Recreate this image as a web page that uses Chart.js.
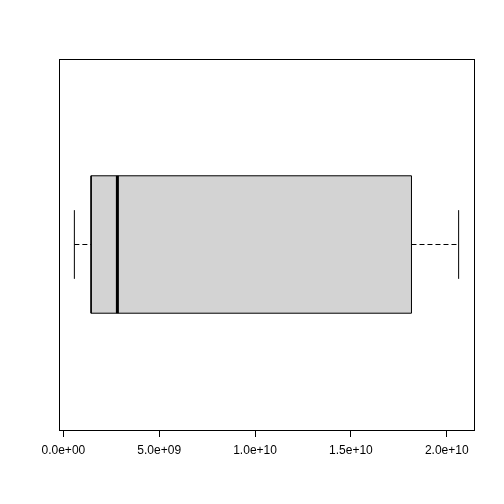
<!DOCTYPE html>
<html>
<head>
<meta charset="utf-8">
<script src="https://cdn.jsdelivr.net/npm/chart.js@4/dist/chart.umd.min.js"></script>
<style>
html,body{margin:0;padding:0;background:#fff;}
canvas{display:block;}
</style>
</head>
<body>
<canvas id="c" width="504" height="504"></canvas>
<script>
// Five-number summary
const whiskerLow = 0.574e9;
const q1 = 1.446e9;
const median = 2.818e9;
const q3 = 18.16e9;
const whiskerHigh = 20.62e9;

const tickValues = [0, 5e9, 1e10, 1.5e10, 2e10];
const tickLabels = ["0.0e+00", "5.0e+09", "1.0e+10", "1.5e+10", "2.0e+10"];

// axis ranges (R's 4% extension)
const span = whiskerHigh - whiskerLow;
const xMin = whiskerLow - 0.04 * span;
const xMax = whiskerHigh + 0.04 * span;
const yCenter = 1;
const boxHalf = 0.2, stapleHalf = 0.1;

const frame = {
  id: 'frame',
  afterDraw(chart) {
    const a = chart.chartArea, ctx = chart.ctx;
    ctx.save();
    ctx.strokeStyle = '#000';
    ctx.lineWidth = 1;
    ctx.strokeRect(Math.round(a.left) + 0.5, Math.round(a.top) + 0.5,
      Math.round(a.right - a.left), Math.round(a.bottom - a.top));
    ctx.restore();
  }
};

const base = {showLine: true, pointRadius: 0, borderColor: '#000', borderWidth: 1, tension: 0, fill: false};

new Chart(document.getElementById('c'), {
  type: 'scatter',
  data: {
    datasets: [
      Object.assign({}, base, {order: 0, borderWidth: 3, borderCapStyle: 'butt',
        data: [{x: median, y: yCenter - boxHalf}, {x: median, y: yCenter + boxHalf}]}),
      Object.assign({}, base, {order: 5, fill: 'shape', backgroundColor: '#d3d3d3',
        data: [{x: q1, y: yCenter - boxHalf}, {x: q3, y: yCenter - boxHalf},
               {x: q3, y: yCenter + boxHalf}, {x: q1, y: yCenter + boxHalf},
               {x: q1, y: yCenter - boxHalf}]}),
      Object.assign({}, base, {order: 6, borderDash: [5, 3],
        data: [{x: whiskerLow, y: yCenter}, {x: q1, y: yCenter}]}),
      Object.assign({}, base, {order: 6, borderDash: [5, 3],
        data: [{x: q3, y: yCenter}, {x: whiskerHigh, y: yCenter}]}),
      Object.assign({}, base, {order: 1,
        data: [{x: whiskerLow, y: yCenter - stapleHalf}, {x: whiskerLow, y: yCenter + stapleHalf}]}),
      Object.assign({}, base, {order: 1,
        data: [{x: whiskerHigh, y: yCenter - stapleHalf}, {x: whiskerHigh, y: yCenter + stapleHalf}]})
    ]
  },
  options: {
    responsive: false,
    animation: false,
    layout: {padding: {left: 59, right: 30, top: 59, bottom: 0}},
    plugins: {legend: {display: false}, tooltip: {enabled: false}},
    scales: {
      x: {
        type: 'linear', min: xMin, max: xMax,
        afterBuildTicks(s) { s.ticks = tickValues.map(v => ({value: v})); },
        afterFit(s) { s.height = 74; },
        border: {display: false},
        grid: {drawOnChartArea: false, drawTicks: true, tickLength: 7, color: '#000', lineWidth: 1},
        ticks: {
          color: '#000', padding: 6, maxRotation: 0, autoSkip: false,
          font: {family: 'Liberation Sans, Arial, sans-serif', size: 12},
          callback(v) { const i = tickValues.indexOf(v); return i >= 0 ? tickLabels[i] : ''; }
        }
      },
      y: {
        type: 'linear', min: 0.46, max: 1.54, display: false
      }
    }
  },
  plugins: [frame]
});
</script>
</body>
</html>
